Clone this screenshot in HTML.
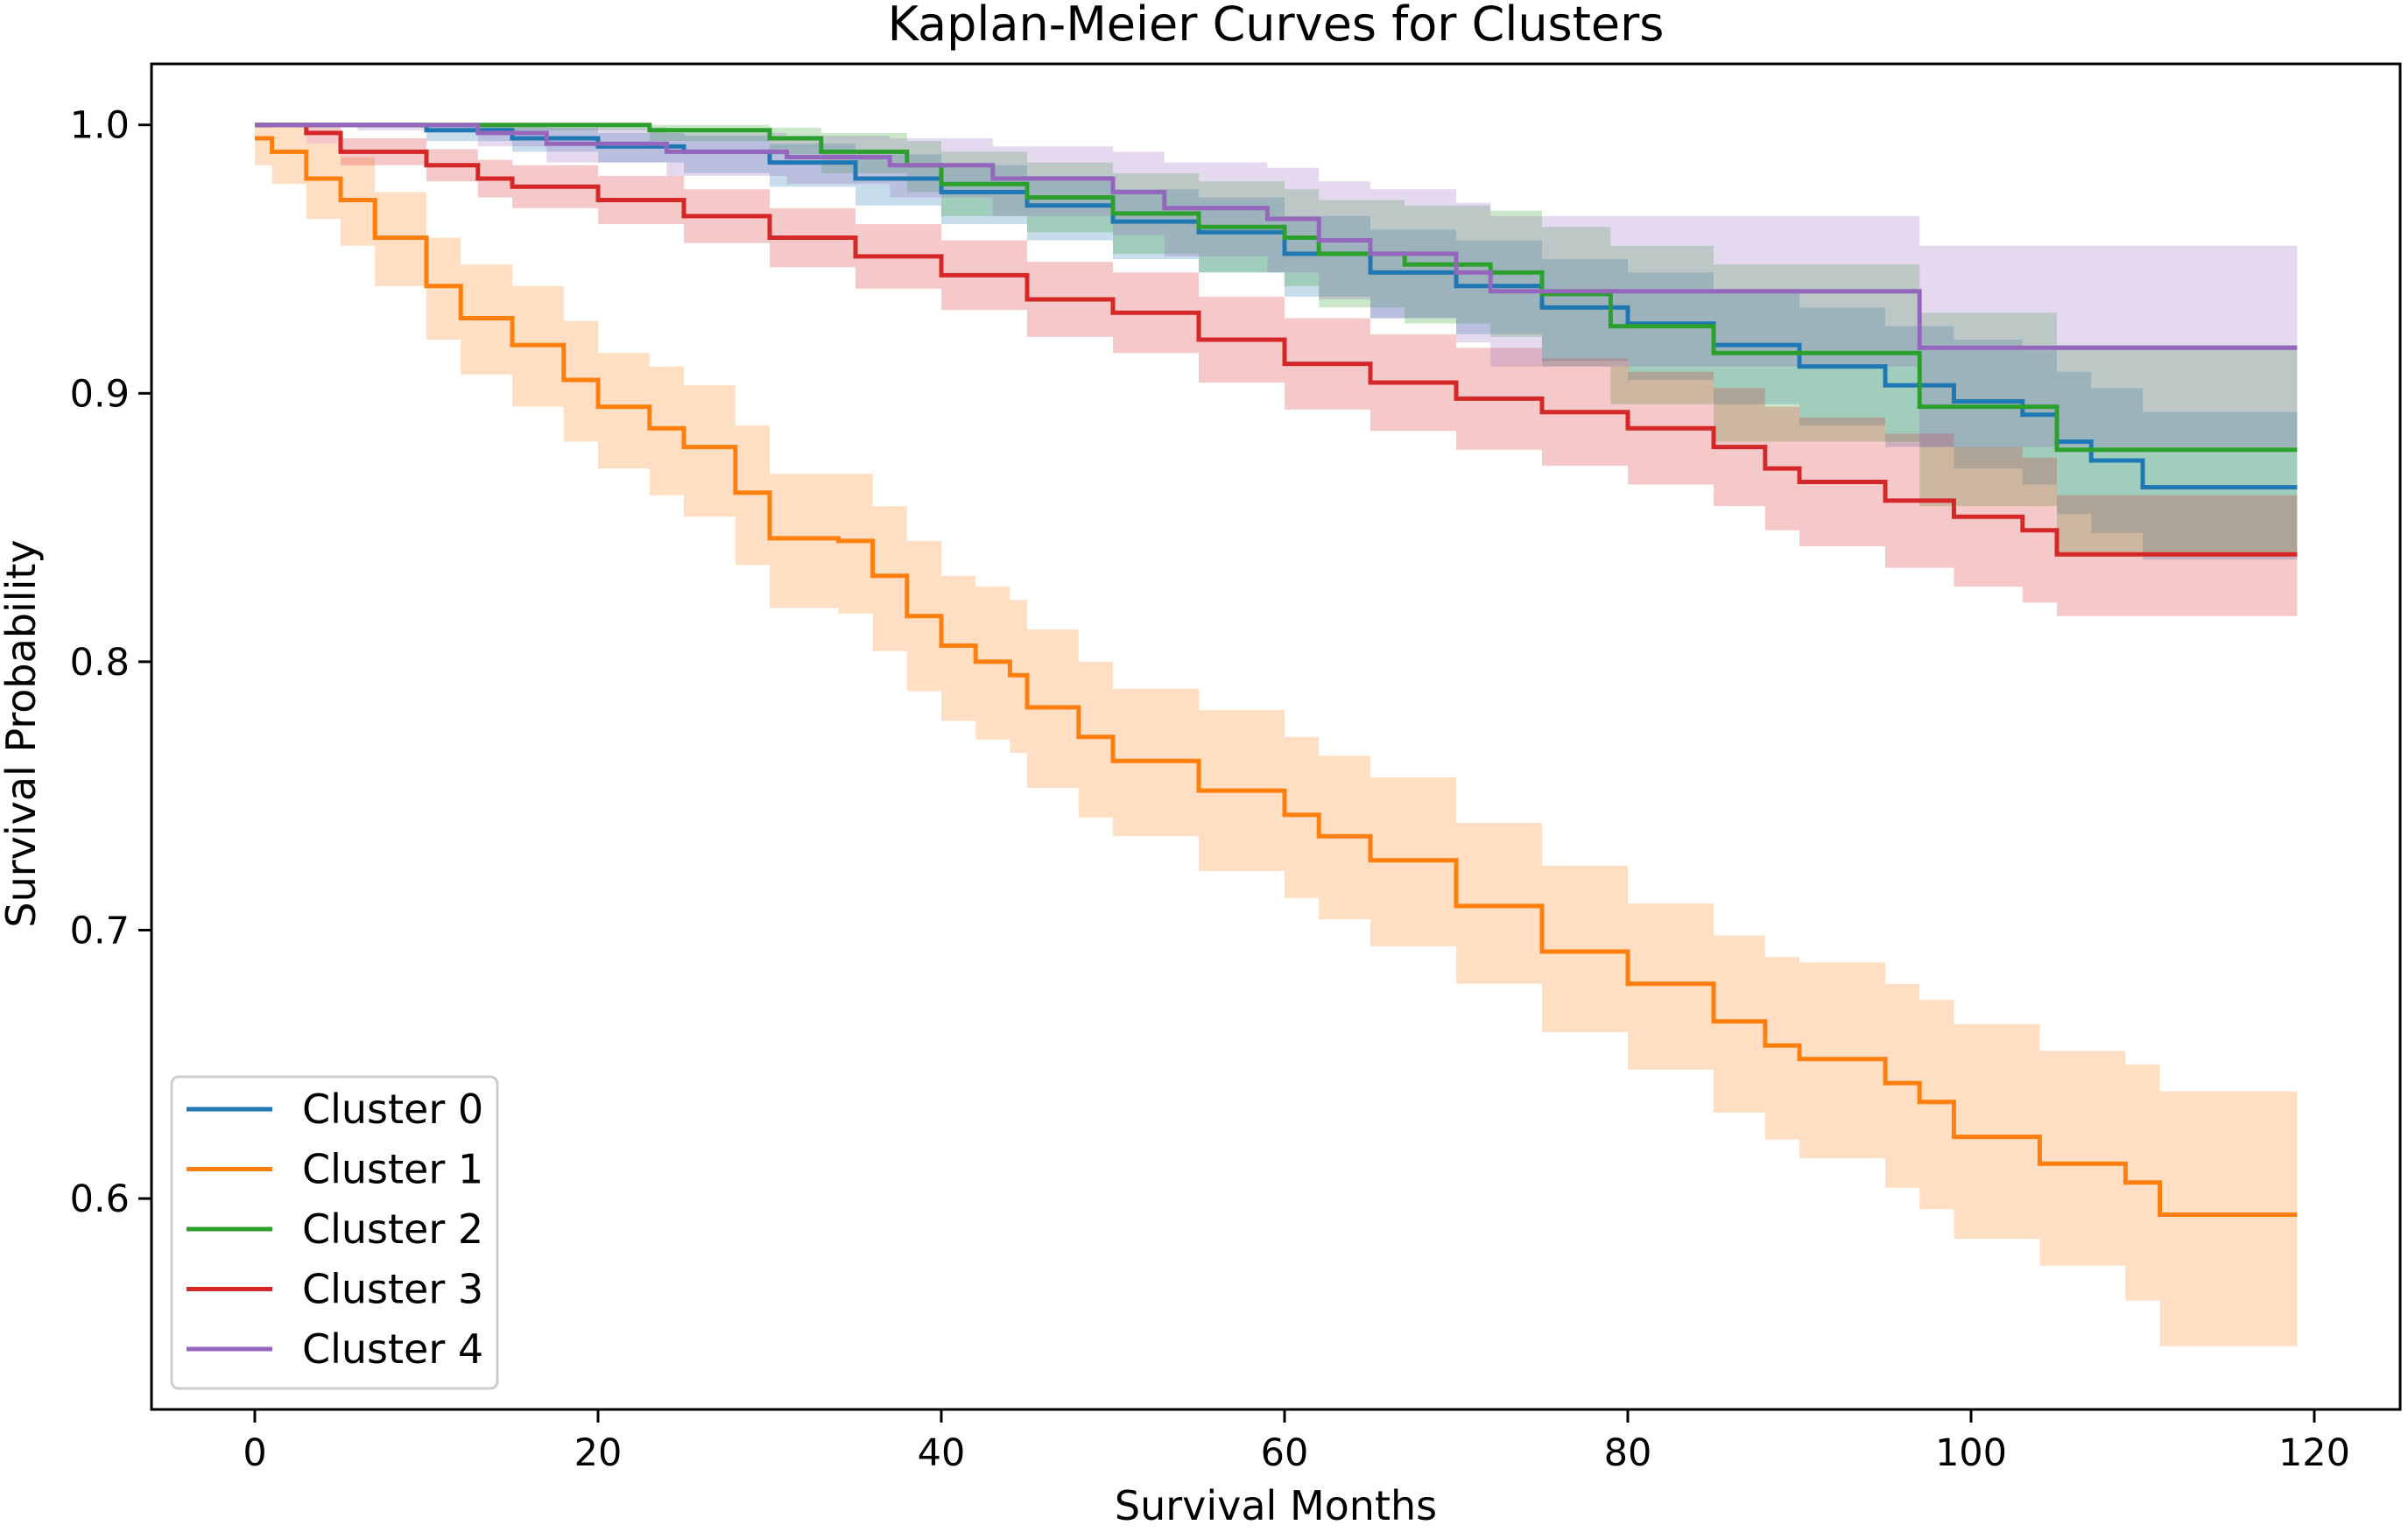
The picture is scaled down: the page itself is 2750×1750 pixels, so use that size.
<!DOCTYPE html>
<html><head><meta charset="utf-8"><style>
body{margin:0;background:#fff}
svg text{font-family:"DejaVu Sans","Liberation Sans",sans-serif;fill:#000}
</style></head><body>
<svg id="chart" width="2750" height="1745" xmlns="http://www.w3.org/2000/svg">
<rect width="2750" height="1745" fill="#fff"/>
<defs><clipPath id="pc"><rect x="173" y="73" width="2568" height="1537"/></clipPath></defs>
<g id="bands" clip-path="url(#pc)"></g>
<g id="lines" clip-path="url(#pc)"></g>
<rect x="173" y="73" width="2568" height="1537" fill="none" stroke="#000" stroke-width="3"/>
<g id="axes"></g>
<text x="1457" y="46" font-size="54" text-anchor="middle">Kaplan-Meier Curves for Clusters</text>
<text x="1457" y="1736" font-size="46" text-anchor="middle">Survival Months</text>
<text x="0" y="0" font-size="46" text-anchor="middle" transform="translate(40,838) rotate(-90)">Survival Probability</text>
<g id="legend"></g>
</svg>
<script>
const names=["Cluster 0","Cluster 1","Cluster 2","Cluster 3","Cluster 4"];
const colors=["#1f77b4","#ff7f0e","#2ca02c","#d62728","#9467bd"];
const xTicks=[0,20,40,60,80,100,120];
const yTicks=[0.6,0.7,0.8,0.9,1.0];
const t0=[0,10,15,20,25,30,35,40,45,50,55,60,65,70,75,80,85,90,95,99,103,105,107,110,119];
const s0=[1.0,0.998,0.995,0.992,0.99,0.986,0.98,0.975,0.97,0.964,0.96,0.952,0.945,0.94,0.932,0.926,0.918,0.91,0.903,0.897,0.892,0.882,0.875,0.865,0.865];
const lo0=[1.0,0.994,0.99,0.986,0.982,0.977,0.97,0.963,0.957,0.95,0.945,0.936,0.928,0.922,0.912,0.905,0.896,0.888,0.88,0.872,0.866,0.855,0.848,0.838,0.838];
const hi0=[1.0,1.0,0.999,0.997,0.996,0.993,0.989,0.985,0.981,0.976,0.973,0.966,0.961,0.957,0.95,0.945,0.938,0.932,0.925,0.92,0.916,0.908,0.902,0.893,0.893];
const t1=[0,1,3,5,7,10,12,15,18,20,23,25,28,30,34,36,38,40,42,44,45,48,50,55,60,62,65,70,75,80,85,88,90,95,97,99,104,109,111,119];
const s1=[0.995,0.99,0.98,0.972,0.958,0.94,0.928,0.918,0.905,0.895,0.887,0.88,0.863,0.846,0.845,0.832,0.817,0.806,0.8,0.795,0.783,0.772,0.763,0.752,0.743,0.735,0.726,0.709,0.692,0.68,0.666,0.657,0.652,0.643,0.636,0.623,0.613,0.606,0.594,0.594];
const lo1=[0.985,0.978,0.965,0.955,0.94,0.92,0.907,0.895,0.882,0.872,0.862,0.854,0.836,0.82,0.818,0.804,0.789,0.778,0.771,0.766,0.753,0.742,0.735,0.722,0.712,0.704,0.694,0.68,0.662,0.648,0.632,0.622,0.615,0.604,0.596,0.585,0.575,0.562,0.545,0.545];
const hi1=[1.0,0.999,0.993,0.988,0.975,0.958,0.948,0.94,0.927,0.915,0.91,0.903,0.888,0.87,0.87,0.858,0.845,0.832,0.828,0.823,0.812,0.8,0.79,0.782,0.772,0.765,0.757,0.74,0.724,0.71,0.698,0.69,0.688,0.68,0.674,0.665,0.655,0.65,0.64,0.64];
const t2=[0,13,23,30,33,38,40,45,50,55,60,62,67,72,75,79,85,97,105,119];
const s2=[1.0,1.0,0.998,0.995,0.99,0.985,0.978,0.973,0.967,0.962,0.958,0.952,0.948,0.945,0.937,0.925,0.915,0.895,0.879,0.879];
const lo2=[1.0,0.998,0.994,0.989,0.982,0.975,0.966,0.96,0.952,0.945,0.94,0.932,0.926,0.921,0.91,0.896,0.882,0.858,0.84,0.84];
const hi2=[1.0,1.0,1.0,0.999,0.997,0.994,0.99,0.986,0.982,0.979,0.976,0.972,0.97,0.968,0.962,0.955,0.948,0.93,0.918,0.918];
const t3=[0,3,5,10,13,15,20,25,30,35,40,45,50,55,60,65,70,75,80,85,88,90,95,99,103,105,119];
const s3=[1.0,0.997,0.99,0.985,0.98,0.977,0.972,0.966,0.958,0.951,0.944,0.935,0.93,0.92,0.911,0.904,0.898,0.893,0.887,0.88,0.872,0.867,0.86,0.854,0.849,0.84,0.84];
const lo3=[1.0,0.993,0.985,0.979,0.973,0.969,0.963,0.956,0.947,0.939,0.931,0.921,0.915,0.904,0.894,0.886,0.879,0.873,0.866,0.858,0.849,0.843,0.835,0.828,0.822,0.817,0.817];
const hi3=[1.0,1.0,0.995,0.991,0.987,0.985,0.981,0.976,0.969,0.963,0.957,0.949,0.945,0.936,0.928,0.922,0.917,0.913,0.908,0.902,0.895,0.891,0.885,0.88,0.876,0.862,0.862];
const t4=[0,6,13,17,24,31,37,43,50,53,59,62,65,70,72,97,119];
const s4=[1.0,1.0,0.997,0.993,0.99,0.988,0.985,0.98,0.975,0.969,0.965,0.957,0.952,0.945,0.938,0.917,0.917];
const lo4=[1.0,0.998,0.992,0.986,0.981,0.978,0.973,0.966,0.959,0.951,0.945,0.935,0.928,0.919,0.91,0.88,0.88];
const hi4=[1.0,1.0,1.0,0.999,0.997,0.996,0.995,0.992,0.99,0.986,0.984,0.979,0.976,0.971,0.966,0.955,0.955];

const X=m=>291+m*19.6;
const Y=v=>142.7+(1-v)*3066;
const NS="http://www.w3.org/2000/svg";
function mk(tag,attrs,parent){const e=document.createElementNS(NS,tag);for(const k in attrs)e.setAttribute(k,attrs[k]);parent.appendChild(e);return e;}
function stepPts(t,v){let p=[];for(let i=0;i<t.length;i++){if(i>0)p.push([X(t[i]),Y(v[i-1])]);p.push([X(t[i]),Y(v[i])]);}return p;}
const series=[[t0,s0,lo0,hi0],[t1,s1,lo1,hi1],[t2,s2,lo2,hi2],[t3,s3,lo3,hi3],[t4,s4,lo4,hi4]];
const bands=document.getElementById('bands'),lines=document.getElementById('lines');
series.forEach((s,i)=>{
  const up=stepPts(s[0],s[3]),dn=stepPts(s[0],s[2]).reverse();
  const d='M'+up.concat(dn).map(p=>p[0].toFixed(1)+','+p[1].toFixed(1)).join('L')+'Z';
  const b=mk('path',{d:d,fill:colors[i],'fill-opacity':0.25},bands);
  
  
});
series.forEach((s,i)=>{
  const d='M'+stepPts(s[0],s[1]).map(p=>p[0].toFixed(1)+','+p[1].toFixed(1)).join('L');
  const l=mk('path',{d:d,fill:'none',stroke:colors[i],'stroke-width':5},lines);
  
  
});
const axes=document.getElementById('axes');
xTicks.forEach(v=>{
  const l=mk('line',{x1:X(v),x2:X(v),y1:1610,y2:1625,stroke:'#000','stroke-width':3},axes);
  
  
  const t=mk('text',{x:X(v),y:1674,'font-size':43,'text-anchor':'middle'},axes);
  
  
  t.textContent=v;
});
yTicks.forEach(v=>{
  const l=mk('line',{x1:158,x2:173,y1:Y(v),y2:Y(v),stroke:'#000','stroke-width':3},axes);
  
  
  const t=mk('text',{x:148,y:Y(v)+15,'font-size':43,'text-anchor':'end'},axes);
  
  
  t.textContent=v.toFixed(1);
});
const lg=document.getElementById('legend');
mk('rect',{x:196,y:1230,width:372,height:356,rx:8,fill:'#fff','fill-opacity':0.8,stroke:'#ccc','stroke-width':3},lg);
names.forEach((n,i)=>{
  const y=1267+i*68.5;
  const l=mk('line',{x1:213,x2:311,y1:y,y2:y,stroke:colors[i],'stroke-width':5},lg);
  
  
  const t=mk('text',{x:345,y:y+16,'font-size':46},lg);
  
  
  t.textContent=n;
});
</script>
</body></html>
